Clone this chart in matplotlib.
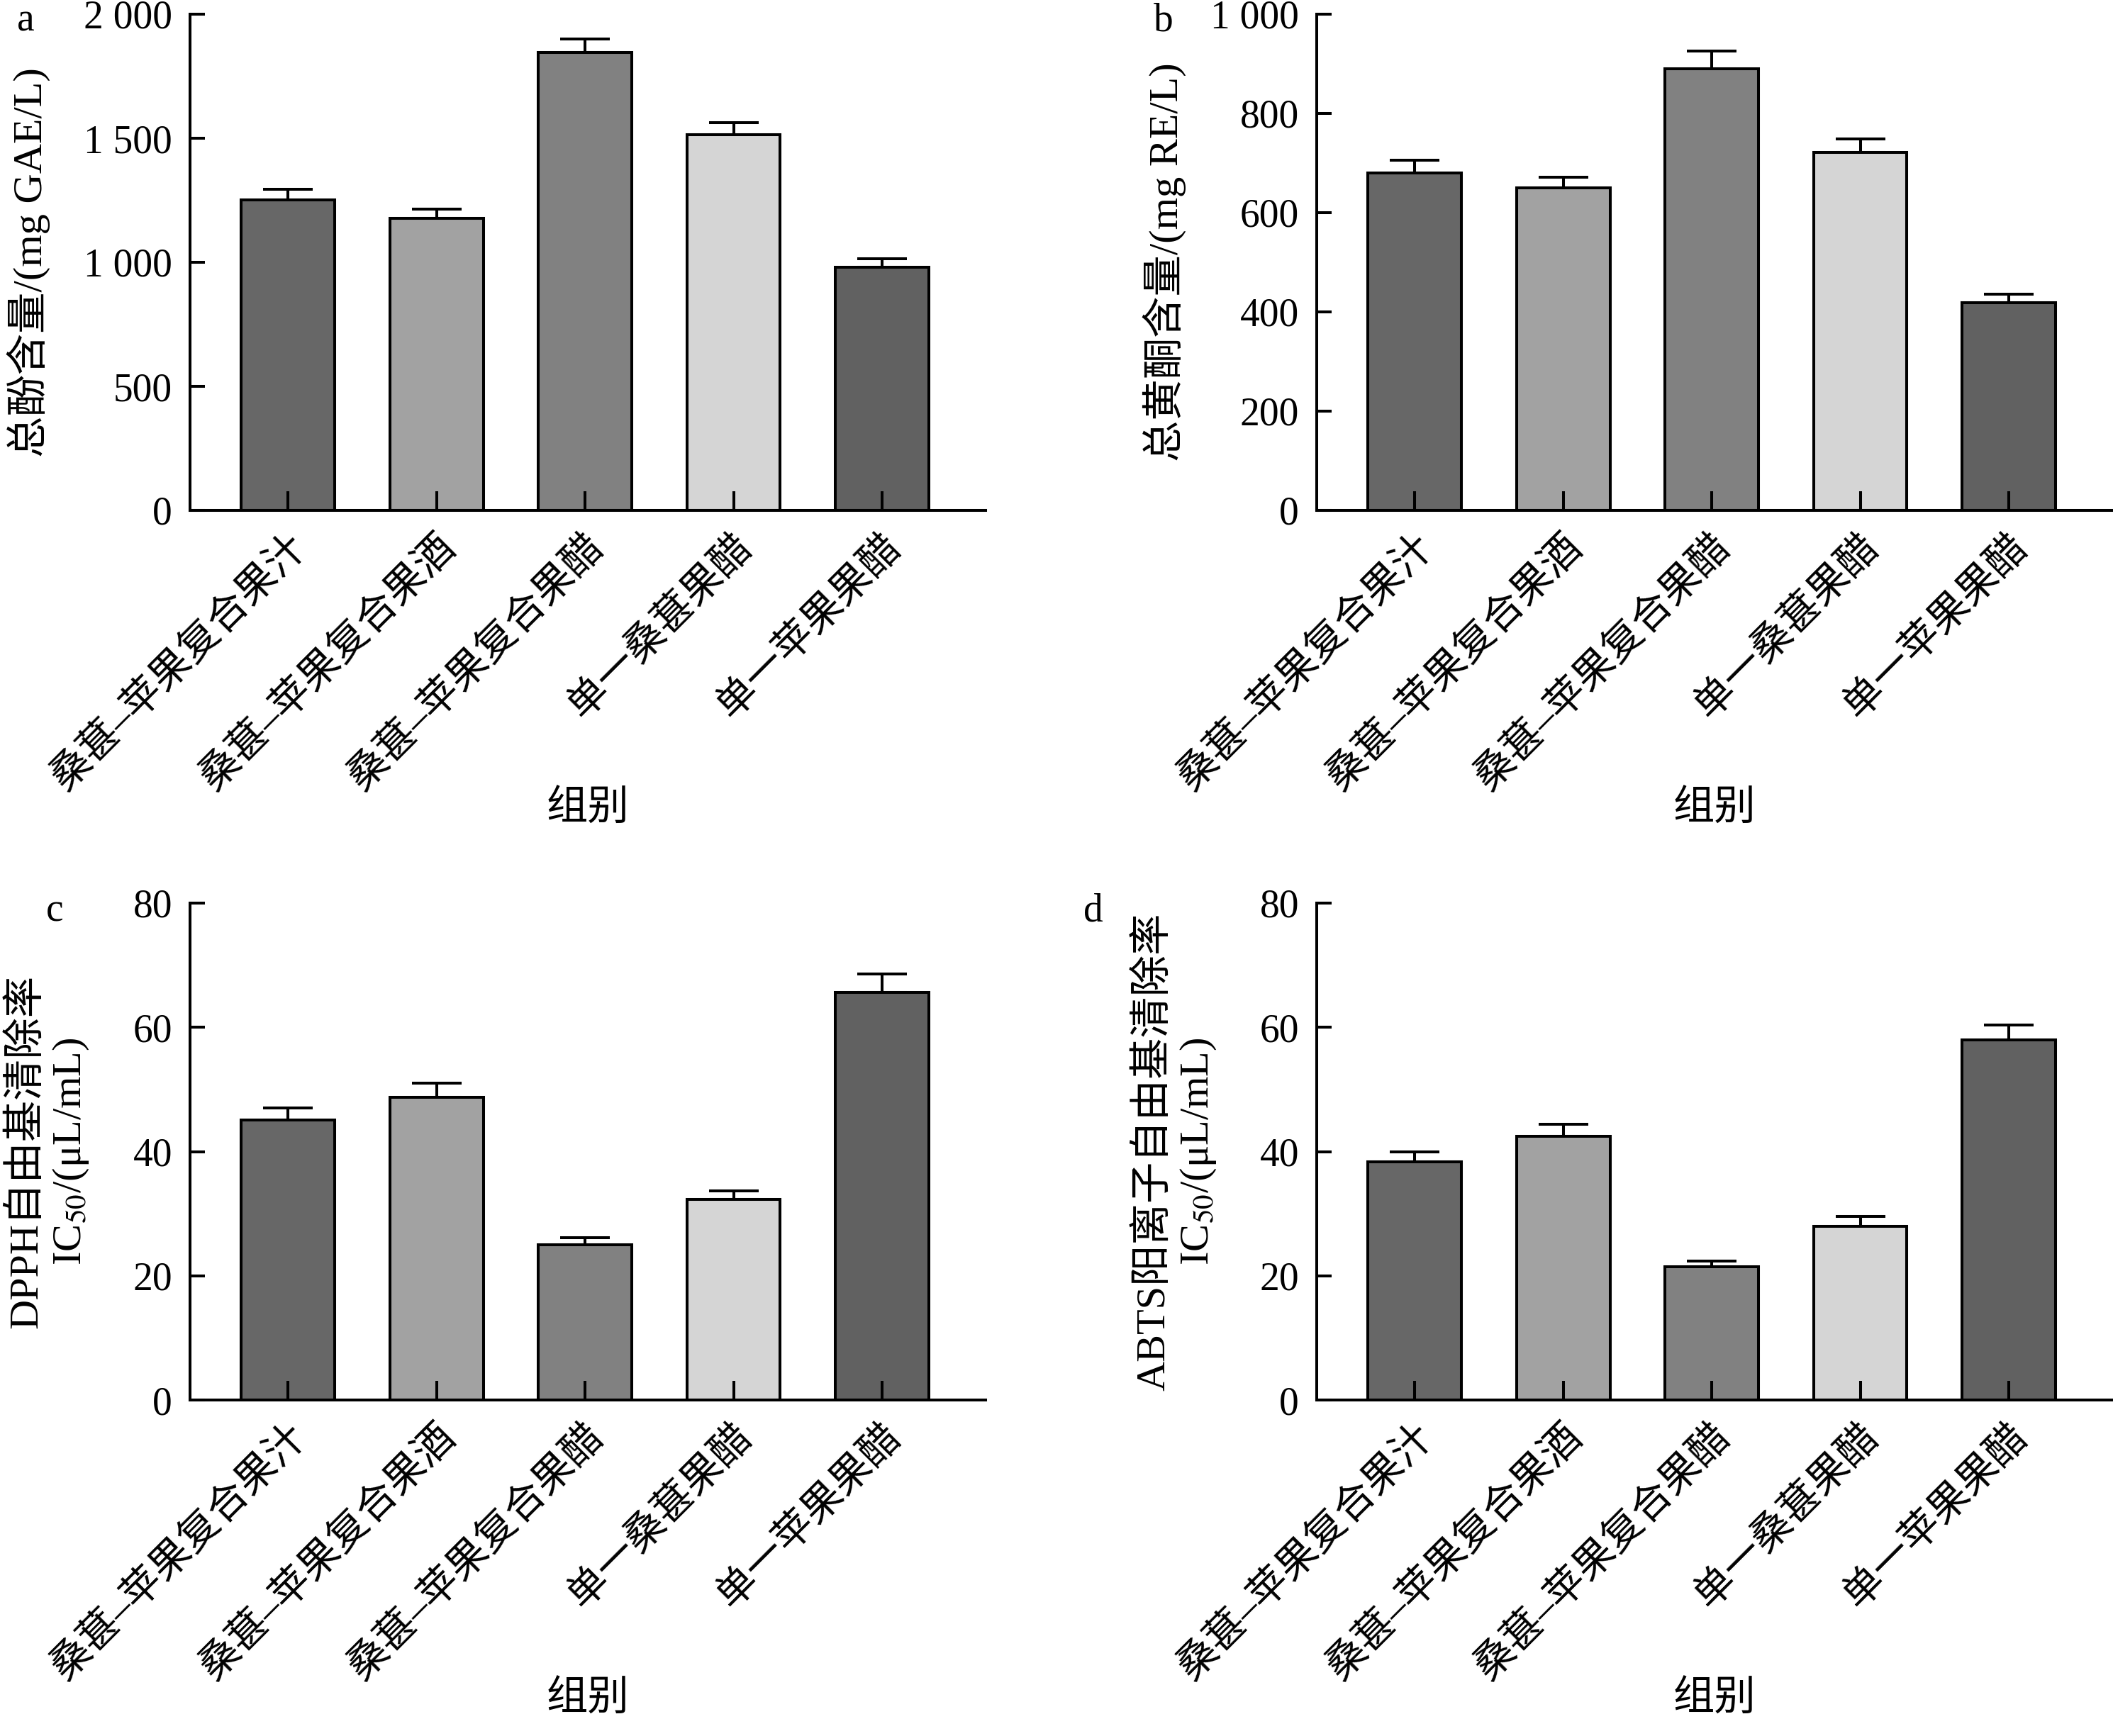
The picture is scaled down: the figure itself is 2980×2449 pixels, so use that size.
import matplotlib
matplotlib.use("Agg")
import matplotlib.pyplot as plt
from matplotlib.ticker import FuncFormatter

plt.rcParams['font.family'] = ['Liberation Serif', 'Noto Sans CJK SC']
plt.rcParams['mathtext.fontset'] = 'stix'

categories = ["桑葚–苹果复合果汁", "桑葚–苹果复合果酒", "桑葚–苹果复合果醋", "单一桑葚果醋", "单一苹果果醋"]
colors = ["#676767", "#a2a2a2", "#818181", "#d5d5d5", "#616161"]

phenol_mean = [1252, 1178, 1845, 1513, 979]
phenol_err = [42, 37, 54, 50, 35]
flavone_mean = [680, 650, 890, 721, 418]
flavone_err = [25, 21, 35, 28, 18]
dpph_mean = [45.1, 48.7, 25.0, 32.3, 65.6]
dpph_err = [1.9, 2.3, 1.1, 1.4, 3.0]
abts_mean = [38.3, 42.4, 21.4, 28.0, 58.0]
abts_err = [1.7, 2.0, 1.0, 1.6, 2.4]

W, H = 2980, 2449
fig = plt.figure(figsize=(W / 100, H / 100), dpi=100)
fig.patch.set_facecolor('white')

def frac(x0, x1, y0, y1):
    return [x0 / W, 1 - y1 / H, (x1 - x0) / W, (y1 - y0) / H]

panels = [
    dict(pos=frac(268, 1390, 20, 720), mean=phenol_mean, err=phenol_err, ylim=2000, step=500,
         ylabel="总酚含量/(mg GAE/L)", ylx=-0.2032, letter="a", letx=36, lety=30,
         fmt=lambda v, p: f"{int(v):,}".replace(",", " ")),
    dict(pos=frac(1857, 2979, 20, 720), mean=flavone_mean, err=flavone_err, ylim=1000, step=200,
         ylabel="总黄酮含量/(mg RE/L)", ylx=-0.1916, letter="b", letx=1641, lety=30,
         fmt=lambda v, p: f"{int(v):,}".replace(",", " ")),
    dict(pos=frac(268, 1390, 1274, 1975), mean=dpph_mean, err=dpph_err, ylim=80, step=20,
         ylabel="DPPH自由基清除率\nIC$_{50}$/(μL/mL)", ylx=-0.178, letter="c", letx=77, lety=1285,
         fmt=lambda v, p: f"{int(v)}"),
    dict(pos=frac(1857, 2979, 1274, 1975), mean=abts_mean, err=abts_err, ylim=80, step=20,
         ylabel="ABTS阳离子自由基清除率\nIC$_{50}$/(μL/mL)", ylx=-0.177, letter="d", letx=1542, lety=1285,
         fmt=lambda v, p: f"{int(v)}"),
]

lw = 2.9
x = list(range(len(categories)))
for p in panels:
    ax = fig.add_axes(p['pos'])
    ax.bar(x, p['mean'], width=0.63, color=colors, edgecolor='black', linewidth=lw, zorder=1)
    ax.errorbar(x, p['mean'], yerr=[[0] * len(x), p['err']], fmt='none', ecolor='black',
                elinewidth=lw, capsize=25, capthick=lw, zorder=0.9)
    ax.set_xlim(-0.659, 4.697)
    ax.set_ylim(0, p['ylim'])
    ax.set_yticks([p['step'] * i for i in range(int(p['ylim'] / p['step']) + 1)])
    ax.yaxis.set_major_formatter(FuncFormatter(p['fmt']))
    ax.set_xticks(x)
    ax.set_xticklabels(categories, rotation=45, ha='right', va='top', rotation_mode='anchor',
                       fontsize=41)
    for s in ['top', 'right']:
        ax.spines[s].set_visible(False)
    for s in ['left', 'bottom']:
        ax.spines[s].set_linewidth(lw)
    ax.tick_params(axis='y', direction='in', length=15, width=lw, labelsize=40, pad=18)
    ax.tick_params(axis='x', direction='in', length=19.5, width=lw, pad=18)
    ax.set_ylabel(p['ylabel'], fontsize=42, linespacing=1.2, multialignment='center')
    ax.yaxis.label.set_va('center')
    ax.yaxis.set_label_coords(p['ylx'], 0.5)
    ax.set_xlabel("组别", fontsize=42)
    ax.xaxis.label.set_va('center')
    ax.xaxis.set_label_coords(0.5, -0.603)
    fig.text(p['letx'] / W, 1 - p['lety'] / H, p['letter'], fontsize=40, ha='center', va='center')

fig.savefig("out.png", dpi=100, facecolor='white')
